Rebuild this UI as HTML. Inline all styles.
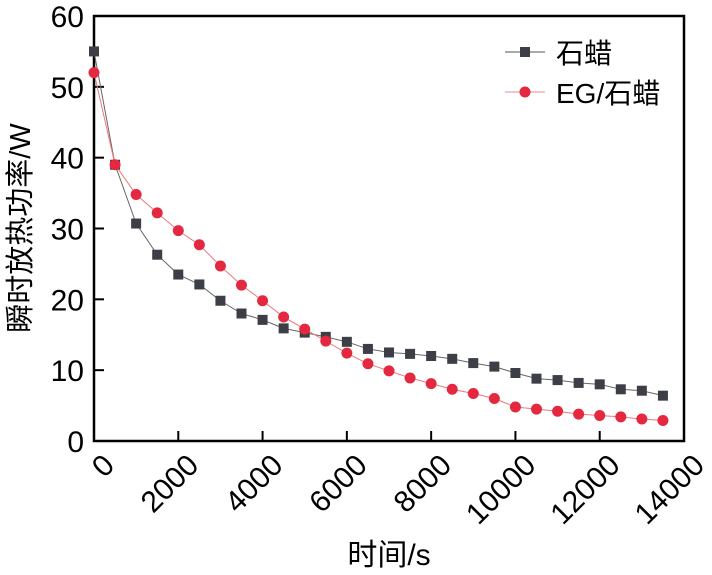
<!DOCTYPE html>
<html><head><meta charset="utf-8"><style>
body{margin:0;background:#fff}
svg{font-family:"Liberation Sans","Noto Sans CJK SC",sans-serif}
</style></head><body>
<svg id="c" width="712" height="570">
<rect x="0" y="0" width="712" height="570" fill="#fff"/>
<text x="389" y="565" font-size="30" text-anchor="middle">时间/s</text>
<text transform="translate(30,228) rotate(-90)" font-size="29" text-anchor="middle">瞬时放热功率/W</text>
<g>
<line x1="505" y1="52" x2="545" y2="52" stroke="#555" stroke-width="1"/>
<rect x="520" y="47" width="10" height="10" fill="#3d3f46"/>
<text x="556" y="63" font-size="28">石蜡</text>
<line x1="505" y1="92" x2="545" y2="92" stroke="#e88" stroke-width="1"/>
<circle cx="525" cy="92" r="5.5" fill="#e3283f"/>
<text x="556" y="103" font-size="28">EG/石蜡</text>
</g>
</svg>
<script>
const times=[0,500,1000,1500,2000,2500,3000,3500,4000,4500,5000,5500,6000,6500,7000,7500,8000,8500,9000,9500,10000,10500,11000,11500,12000,12500,13000,13500];
const paraffin=[55,39,30.7,26.3,23.5,22.1,19.8,18,17.1,15.9,15.3,14.7,14,13,12.5,12.3,12,11.6,11,10.5,9.6,8.8,8.6,8.2,8,7.3,7.1,6.4];
const egParaffin=[52,39,34.8,32.2,29.7,27.7,24.7,22,19.8,17.5,15.8,14.1,12.4,10.9,9.9,8.9,8.1,7.3,6.7,6,4.8,4.5,4.2,3.8,3.6,3.4,3.1,2.9];
const xTicks=[0,2000,4000,6000,8000,10000,12000,14000];
const yTicks=[0,10,20,30,40,50,60];
const L=94,R=684,T=16,B=441;
const sx=v=>L+(v/14000)*(R-L);
const sy=v=>B-(v/60)*(B-T);
const NS="http://www.w3.org/2000/svg";
const svg=document.getElementById('c');
function mk(t,a,p){const e=document.createElementNS(NS,t);for(const k in a)e.setAttribute(k,a[k]);(p||svg).appendChild(e);return e;}
const ax=mk('g',{});


xTicks.forEach(v=>{
 mk('line',{x1:sx(v),x2:sx(v),y1:B,y2:B-10,stroke:'#000','stroke-width':2},ax);
 const t=mk('text',{transform:`translate(${sx(v)+22},${B+26}) rotate(-45)`,'font-size':30,'text-anchor':'end'},ax);
 t.textContent=v;
 
 
});
yTicks.forEach(v=>{
 mk('line',{x1:L,x2:L+10,y1:sy(v),y2:sy(v),stroke:'#000','stroke-width':2},ax);
 const t=mk('text',{x:L-10,y:sy(v)+11,'font-size':30,'text-anchor':'end'},ax);
 t.textContent=v;
 
 
});
mk('rect',{x:L,y:T,width:R-L,height:B-T,fill:'none',stroke:'#000','stroke-width':2.5},ax);
function series(vals,color,lc,shape,name){
 const g=mk('g',{});
 
 
 mk('polyline',{points:vals.map((v,i)=>sx(times[i])+','+sy(v)).join(' '),fill:'none',stroke:lc,'stroke-width':1},g);
 vals.forEach((v,i)=>{
  let m;
  if(shape==='sq')m=mk('rect',{x:sx(times[i])-5,y:sy(v)-5,width:10,height:10,fill:color},g);
  else m=mk('circle',{cx:sx(times[i]),cy:sy(v),r:5.5,fill:color},g);
  
  
 });
}
series(paraffin,'#3d3f46','#666','sq','series-paraffin');
series(egParaffin,'#e3283f','#e77','ci','series-eg-paraffin');
</script>
</body></html>
